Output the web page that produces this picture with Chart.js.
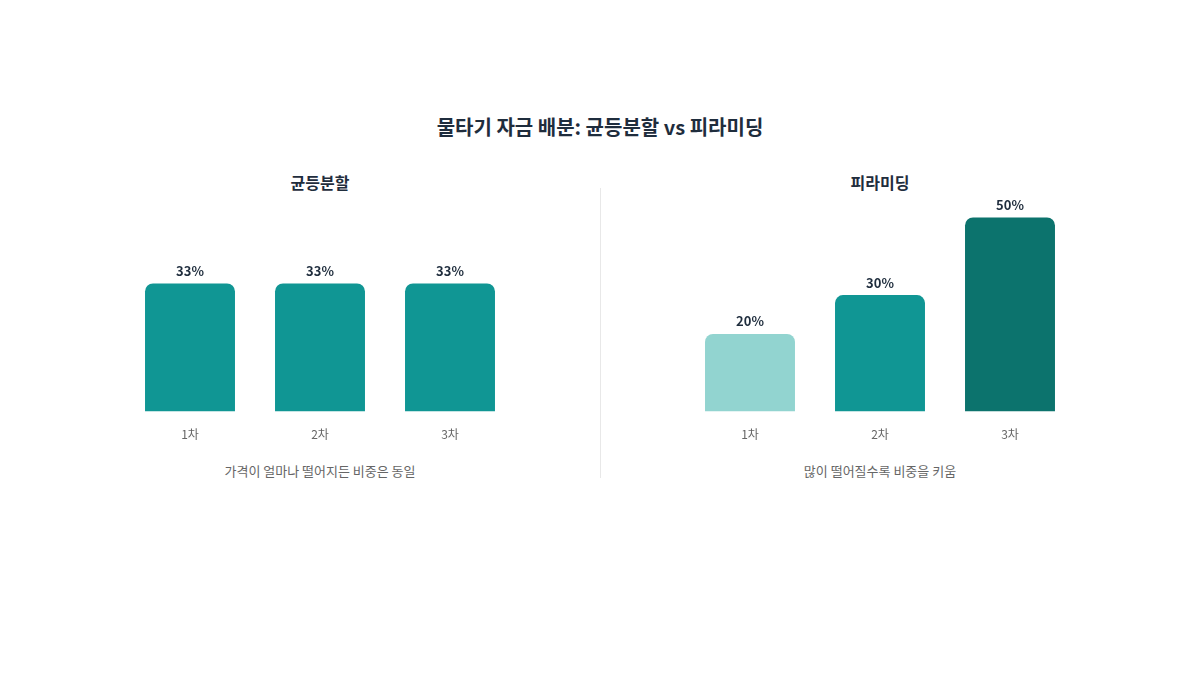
<!DOCTYPE html>
<html><head><meta charset="utf-8">
<script src="https://cdn.jsdelivr.net/npm/chart.js@4"></script>
<style>
body{margin:0;width:1200px;height:675px;background:#fff;font-family:"Noto Sans CJK KR","Noto Sans",sans-serif;position:relative;overflow:hidden}
.t{position:absolute;left:0;width:1200px;text-align:center;top:112px;font-size:20px;font-weight:700;color:#1f2d3d}
.sub{position:absolute;width:400px;text-align:center;top:170px;font-size:16px;font-weight:700;color:#1f2d3d}
.cap{position:absolute;width:400px;text-align:center;top:461px;font-size:13px;color:#666}
.box{position:absolute;top:190px;width:400px;height:260px}
.div{position:absolute;left:600px;top:188px;width:1px;height:290px;background:#e8e8e8}
</style></head><body>
<div class="t">물타기 자금 배분: 균등분할 vs 피라미딩</div>
<div class="sub" style="left:120px">균등분할</div>
<div class="sub" style="left:680px">피라미딩</div>
<div class="box" style="left:120px"><canvas id="c1"></canvas></div>
<div class="box" style="left:680px"><canvas id="c2"></canvas></div>
<div class="div"></div>
<div class="cap" style="left:120px">가격이 얼마나 떨어지든 비중은 동일</div>
<div class="cap" style="left:680px">많이 떨어질수록 비중을 키움</div>
<script>
const categories = ['1차', '2차', '3차'];
const equalValues = [33, 33, 33];
const pyramidValues = [20, 30, 50];
const equalColors = ['#109694', '#109694', '#109694'];
const pyramidColors = ['#92d4d0', '#109694', '#0c736d'];

const valueLabels = {
  id: 'valueLabels',
  afterDatasetsDraw(chart) {
    const ctx = chart.ctx;
    ctx.save();
    ctx.font = 'bold 13px "Noto Sans CJK KR", sans-serif';
    ctx.fillStyle = '#1f2d3d';
    ctx.textAlign = 'center';
    ctx.textBaseline = 'bottom';
    chart.getDatasetMeta(0).data.forEach((bar, i) => {
      ctx.fillText(chart.data.datasets[0].data[i] + '%', bar.x, bar.y - 6);
    });
    ctx.restore();
  }
};

function makeChart(id, values, colors) {
  return new Chart(document.getElementById(id), {
    type: 'bar',
    data: {
      labels: categories,
      datasets: [{ data: values, backgroundColor: colors, borderRadius: 8, borderSkipped: 'bottom', categoryPercentage: 1, barPercentage: 0.692 }]
    },
    options: {
      responsive: true,
      maintainAspectRatio: false,
      animation: false,
      layout: { padding: { top: 8, left: 5, right: 5 } },
      plugins: { legend: { display: false }, tooltip: { enabled: false } },
      scales: {
        y: { display: false, min: 0, max: 55 },
        x: {
          grid: { display: false },
          border: { display: false },
          ticks: { color: '#666', font: { size: 12, family: '"Noto Sans CJK KR", sans-serif' }, padding: 8 }
        }
      }
    },
    plugins: [valueLabels]
  });
}

makeChart('c1', equalValues, equalColors);
makeChart('c2', pyramidValues, pyramidColors);
</script>
</body></html>
